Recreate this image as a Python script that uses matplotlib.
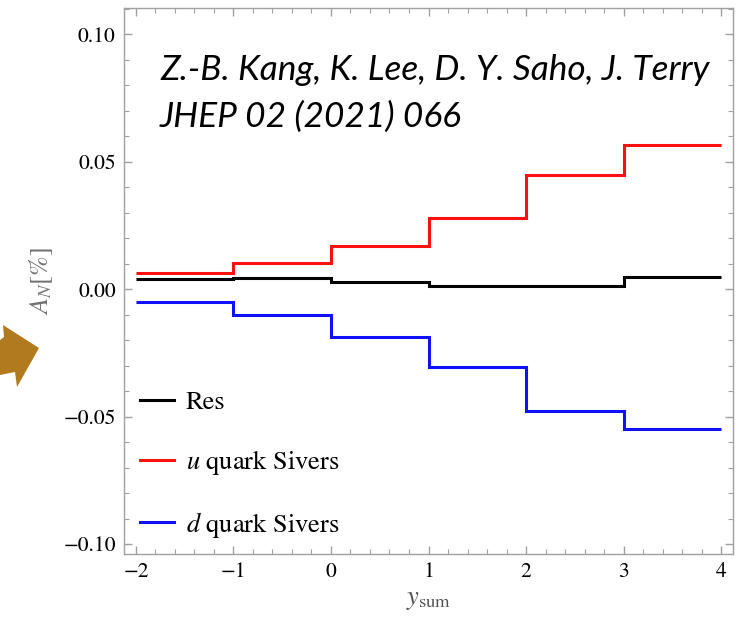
import matplotlib
matplotlib.use("Agg")
from matplotlib import pyplot as plt
from matplotlib.patches import Polygon
from matplotlib.ticker import MultipleLocator
import numpy as np

# y_sum bin edges and A_N values per bin
y_edges = [-2, -1, 0, 1, 2, 3, 4]
res_vals = [0.0040, 0.0043, 0.0027, 0.0012, 0.0013, 0.0050]
u_vals = [0.0063, 0.0102, 0.0169, 0.0278, 0.0447, 0.0565]
d_vals = [-0.0051, -0.0102, -0.0188, -0.0306, -0.0478, -0.0550]

series_labels = ["Res", r"$u$ quark Sivers", r"$d$ quark Sivers"]
series_colors = ["black", "#ff1010", "#1010ff"]

citation = "Z.-B. Kang, K. Lee, D. Y. Saho, J. Terry\nJHEP 02 (2021) 066"

plt.rcParams["font.family"] = "STIXGeneral"
plt.rcParams["mathtext.fontset"] = "stix"

W, H = 747, 623
fig = plt.figure(figsize=(W / 100, H / 100), dpi=100)
ax = fig.add_axes([124 / W, 1 - 554 / H, (733 - 124) / W, (554 - 8) / H])

for vals, lab, col in zip([res_vals, u_vals, d_vals], series_labels, series_colors):
    ax.stairs(vals, y_edges, color=col, linewidth=2.2, label=lab, baseline=None)

ax.set_xlim(-2.123, 4.123)
ax.set_ylim(-0.1039, 0.1104)

ax.xaxis.set_major_locator(MultipleLocator(1))
ax.xaxis.set_minor_locator(MultipleLocator(0.2))
ax.yaxis.set_major_locator(MultipleLocator(0.05))
ax.yaxis.set_minor_locator(MultipleLocator(0.01))
ax.yaxis.set_major_formatter(matplotlib.ticker.FuncFormatter(
    lambda v, p: ("%.2f" % v).replace("-", "\u2212")))
ax.xaxis.set_major_formatter(matplotlib.ticker.FuncFormatter(
    lambda v, p: ("%d" % round(v)).replace("-", "\u2212")))

frame_col = "#a0a0a0"
for s in ax.spines.values():
    s.set_color(frame_col)
    s.set_linewidth(1.0)
ax.tick_params(which="both", direction="in", top=True, right=True,
               color=frame_col, labelsize=15.5, pad=6)
ax.tick_params(which="major", length=6, width=1.0)
ax.tick_params(which="minor", length=3.5, width=0.8)

ax.set_xlabel(r"$y_{\mathrm{sum}}$", fontsize=19, color="#505050", labelpad=4)
ax.set_ylabel(r"$A_N[\%]$", fontsize=19, color="#707070", labelpad=6)

ax.legend(loc="upper left", bbox_to_anchor=(0.004, 0.324), frameon=False,
          fontsize=19, handlelength=1.3, handletextpad=0.45, labelspacing=1.25,
          borderaxespad=0.2, borderpad=0.3)

ax.text(160 / W, 1 - 54 / H, citation, transform=fig.transFigure,
        fontsize=25.4, family="Lato", style="italic", va="top", ha="left",
        linespacing=1.55)

# arrow from the slide, partly cut off at the left edge
arrow_px = [(0, 340), (4, 337), (3, 325), (39, 348), (17, 387), (15, 372), (0, 375)]
arrow = Polygon([(x / W, 1 - y / H) for x, y in arrow_px], closed=True,
                transform=fig.transFigure, facecolor="#b27a1e", edgecolor="none")
fig.patches.append(arrow)

fig.savefig("out.png", dpi=100)
